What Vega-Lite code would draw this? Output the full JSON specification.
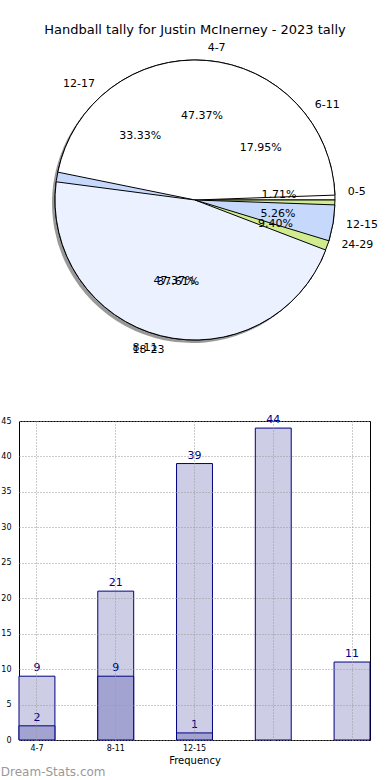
{
  "$schema": "https://vega.github.io/schema/vega-lite/v6.json",
  "padding": {"left": 0, "right": 0, "top": 23, "bottom": 0},
  "spacing": 58,
  "config": {"font": "DejaVu Sans", "view": {"stroke": null}},
  "datasets": {
    "pie1": [
      {"label": "4-7", "value": 9, "idx": 0, "pct": "47.37%"},
      {"label": "8-11", "value": 9, "idx": 1, "pct": "47.37%"},
      {"label": "12-15", "value": 1, "idx": 2, "pct": "5.26%"}
    ],
    "pie2": [
      {"label": "0-5", "value": 2, "idx": 0, "pct": "1.71%"},
      {"label": "6-11", "value": 21, "idx": 1, "pct": "17.95%"},
      {"label": "12-17", "value": 39, "idx": 2, "pct": "33.33%"},
      {"label": "18-23", "value": 44, "idx": 3, "pct": "37.61%"},
      {"label": "24-29", "value": 11, "idx": 4, "pct": "9.40%"}
    ],
    "barsA": [
      {"cat": "4-7", "value": 9},
      {"cat": "8-11", "value": 21},
      {"cat": "12-15", "value": 39},
      {"cat": "18-23", "value": 44},
      {"cat": "24-29", "value": 11}
    ],
    "barsB": [
      {"cat": "4-7", "value": 2},
      {"cat": "8-11", "value": 9},
      {"cat": "12-15", "value": 1}
    ]
  },
  "vconcat": [
    {
      "width": 352,
      "height": 300,
      "title": {"text": "Handball tally for Justin McInerney - 2023 tally", "fontSize": 13, "fontWeight": "normal", "offset": 5, "color": "#000000"},
      "layer": [
        {
          "data": {"name": "pie2"},
          "mark": {"type": "arc", "radius": 140, "color": "#555555", "opacity": 0.6, "xOffset": -3, "yOffset": 3},
          "encoding": {
            "theta": {"field": "value", "type": "quantitative", "stack": "normalize", "scale": {"domain": [0, 1], "range": [1.5708, -4.7124]}},
            "order": {"field": "idx", "type": "quantitative"}
          }
        },
        {
          "data": {"name": "pie2"},
          "mark": {"type": "arc", "radius": 140, "stroke": "#000000", "strokeWidth": 1},
          "encoding": {
            "theta": {"field": "value", "type": "quantitative", "stack": "normalize"},
            "color": {"field": "label", "type": "nominal", "legend": null, "scale": {"domain": ["4-7", "8-11", "12-15", "0-5", "6-11", "12-17", "18-23", "24-29"], "range": ["#ffffff", "#ebf1fe", "#c6d9fd", "#ffffff", "#ffffff", "#c6d9fd", "#c6d9fd", "#d1ec8f"]}},
            "order": {"field": "idx", "type": "quantitative"}
          }
        },
        {
          "data": {"name": "pie1"},
          "mark": {"type": "arc", "radius": 140, "stroke": "#000000", "strokeWidth": 1, "padAngle": 0.07},
          "encoding": {
            "theta": {"field": "value", "type": "quantitative", "stack": "normalize"},
            "color": {"field": "label", "type": "nominal", "legend": null},
            "order": {"field": "idx", "type": "quantitative"}
          }
        },
        {
          "data": {"name": "pie2"},
          "mark": {"type": "text", "radius": 153, "align": "left", "baseline": "middle", "fontSize": 11, "color": "#000000"},
          "encoding": {
            "theta": {"field": "value", "type": "quantitative", "stack": "normalize"},
            "order": {"field": "idx", "type": "quantitative"},
            "text": {"condition": {"test": "indexof(['0-5','6-11','24-29'], datum.label) >= 0", "field": "label"}, "value": ""}
          }
        },
        {
          "data": {"name": "pie2"},
          "mark": {"type": "text", "radius": 153, "align": "right", "baseline": "middle", "fontSize": 11, "color": "#000000"},
          "encoding": {
            "theta": {"field": "value", "type": "quantitative", "stack": "normalize"},
            "order": {"field": "idx", "type": "quantitative"},
            "text": {"condition": {"test": "indexof(['12-17','18-23'], datum.label) >= 0", "field": "label"}, "value": ""}
          }
        },
        {
          "data": {"name": "pie1"},
          "mark": {"type": "text", "radius": 153, "align": "left", "baseline": "middle", "fontSize": 11, "color": "#000000"},
          "encoding": {
            "theta": {"field": "value", "type": "quantitative", "stack": "normalize"},
            "order": {"field": "idx", "type": "quantitative"},
            "text": {"condition": {"test": "indexof(['4-7','12-15'], datum.label) >= 0", "field": "label"}, "value": ""}
          }
        },
        {
          "data": {"name": "pie1"},
          "mark": {"type": "text", "radius": 153, "align": "right", "baseline": "middle", "fontSize": 11, "color": "#000000"},
          "encoding": {
            "theta": {"field": "value", "type": "quantitative", "stack": "normalize"},
            "order": {"field": "idx", "type": "quantitative"},
            "text": {"condition": {"test": "datum.label == '8-11'", "field": "label"}, "value": ""}
          }
        },
        {
          "data": {"name": "pie2"},
          "mark": {"type": "text", "radius": 84, "align": "center", "baseline": "middle", "fontSize": 11, "color": "#000000"},
          "encoding": {
            "theta": {"field": "value", "type": "quantitative", "stack": "normalize"},
            "order": {"field": "idx", "type": "quantitative"},
            "text": {"field": "pct"}
          }
        },
        {
          "data": {"name": "pie1"},
          "mark": {"type": "text", "radius": 84, "align": "center", "baseline": "middle", "fontSize": 11, "color": "#000000"},
          "encoding": {
            "theta": {"field": "value", "type": "quantitative", "stack": "normalize"},
            "order": {"field": "idx", "type": "quantitative"},
            "text": {"field": "pct"}
          }
        }
      ]
    },
    {
      "width": 351,
      "height": 319,
      "view": {"stroke": "#000000", "strokeWidth": 1},
      "title": {"text": "Dream-Stats.com", "orient": "bottom", "anchor": "start", "frame": "bounds", "fontSize": 12, "fontWeight": "normal", "color": "#999999", "offset": 2},
      "encoding": {
        "x": {
          "field": "cat", "type": "nominal",
          "scale": {"domain": ["4-7", "8-11", "12-15", "18-23", "24-29"], "paddingInner": 0.544, "paddingOuter": 0},
          "axis": {"labelFontSize": 8, "labelAngle": 0, "labelColor": "#000000", "tickSize": 0, "labelPadding": 4, "grid": true, "gridDash": [1, 2], "gridColor": "#999999", "domain": false, "bandPosition": 0.5, "zindex": 1, "title": "Frequency", "titleFontSize": 10, "titleFontWeight": "normal", "titleColor": "#000000", "titlePadding": 3, "labelExpr": "indexof(['4-7','8-11','12-15'], datum.value) >= 0 ? datum.value : ''"}
        },
        "y": {
          "field": "value", "type": "quantitative",
          "scale": {"domain": [0, 45], "nice": false},
          "axis": {"values": [0, 5, 10, 15, 20, 25, 30, 35, 40, 45], "labelOverlap": false, "labelFontSize": 8, "labelColor": "#000000", "tickSize": 0, "labelPadding": 8, "grid": true, "gridDash": [1, 2], "gridColor": "#999999", "domain": false, "zindex": 1, "title": null}
        }
      },
      "layer": [
        {
          "data": {"name": "barsA"},
          "mark": {"type": "bar", "color": "#cdcde6", "stroke": "#000080", "strokeWidth": 1}
        },
        {
          "data": {"name": "barsB"},
          "mark": {"type": "bar", "color": "#a3a3d1", "stroke": "#000080", "strokeWidth": 1}
        },
        {
          "data": {"name": "barsA"},
          "mark": {"type": "text", "baseline": "bottom", "dy": -3, "fontSize": 11, "color": "#000080"},
          "encoding": {"text": {"field": "value", "type": "quantitative"}}
        },
        {
          "data": {"name": "barsB"},
          "mark": {"type": "text", "baseline": "bottom", "dy": -3, "fontSize": 11, "color": "#000080"},
          "encoding": {"text": {"field": "value", "type": "quantitative"}}
        }
      ]
    }
  ]
}
